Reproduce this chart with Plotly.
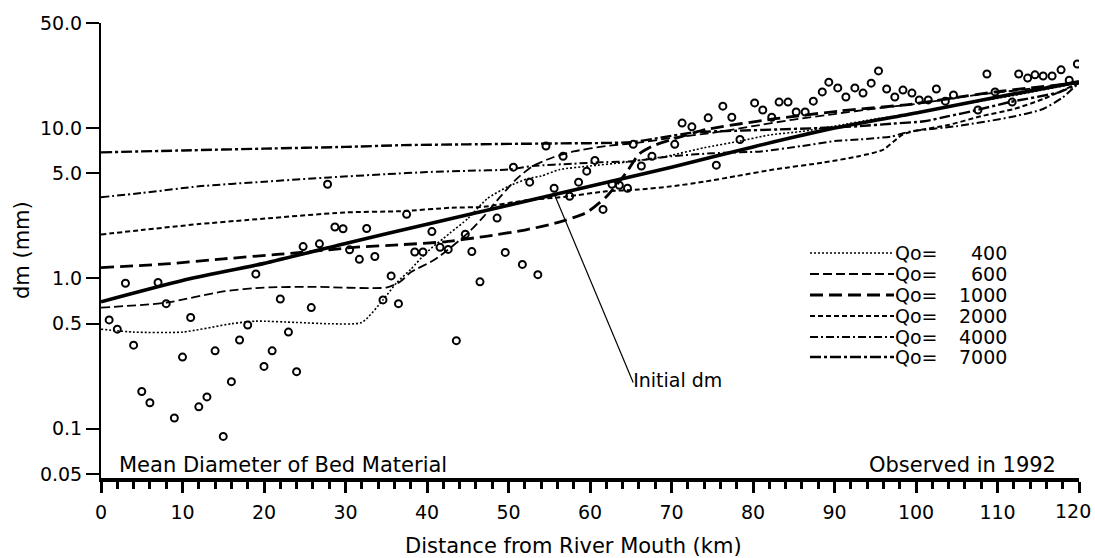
import math
import plotly.graph_objects as go

# ---------------- data ----------------
obs_x = [1, 2, 3, 4, 5, 6, 7, 8, 9, 10, 11, 12, 13, 14, 15, 16, 17, 18, 19, 20,
         21, 22, 23, 24, 24.8, 25.8, 26.8, 27.8, 28.7, 29.7, 30.5, 31.7, 32.6, 33.6,
         34.6, 35.6, 36.5, 37.5, 38.5, 39.5, 40.6, 41.6, 42.6, 43.6, 44.7, 45.5,
         46.5, 48.6, 49.6, 50.6, 51.7, 52.6, 53.6, 54.6, 55.6, 56.7, 57.5, 58.6,
         59.6, 60.6, 61.6, 62.7, 63.6, 64.6, 65.3, 66.3, 67.6, 70.4, 71.3, 72.5,
         74.5, 75.5, 76.3, 77.4, 78.4, 80.2, 81.2, 82.3, 83.2, 84.3, 85.3, 86.4,
         87.4, 88.5, 89.3, 90.4, 91.4, 92.5, 93.5, 94.5, 95.4, 96.4, 97.4, 98.4,
         99.5, 100.4, 101.5, 102.5, 103.6, 104.6, 107.6, 108.7, 109.7, 111.8,
         112.6, 113.7, 114.6, 115.6, 116.7, 117.8, 118.8, 119.8]
obs_y = [0.53, 0.46, 0.93, 0.36, 0.177, 0.149, 0.94, 0.68, 0.118, 0.30, 0.55, 0.14,
         0.163, 0.33, 0.089, 0.206, 0.39, 0.49, 1.07, 0.26, 0.33, 0.73, 0.44, 0.24,
         1.63, 0.64, 1.70, 4.23, 2.20, 2.14, 1.55, 1.34, 2.15, 1.40, 0.72, 1.04,
         0.68, 2.67, 1.50, 1.50, 2.05, 1.61, 1.56, 0.386, 1.97, 1.51, 0.95, 2.52,
         1.49, 5.5, 1.24, 4.37, 1.06, 7.6, 3.98, 6.5, 3.52, 4.37, 5.17, 6.1, 2.88,
         4.23, 4.17, 3.98, 7.8, 5.6, 6.5, 7.8, 10.8, 10.2, 11.7, 5.67, 14.0, 11.8,
         8.4, 14.7, 13.2, 11.8, 14.9, 14.9, 12.8, 12.8, 15.1, 17.4, 20.2, 18.5,
         16.1, 18.5, 17.1, 19.9, 24.0, 18.2, 16.1, 17.9, 17.1, 15.4, 15.4, 18.2,
         15.1, 16.6, 13.2, 22.9, 17.4, 14.9, 22.9, 21.5, 22.6, 22.2, 22.2, 24.4,
         20.8, 26.7]

initial_x = [0, 10, 20, 30, 40, 50, 60, 70, 80, 90, 100, 110, 120]
initial_y = [0.70, 0.97, 1.26, 1.71, 2.29, 3.07, 4.1, 5.5, 7.5, 10.0, 12.6, 16.1, 20.3]

q400_x = [0, 4, 10, 16, 19, 24, 28, 32, 34.6, 36.3, 38, 40, 42.8, 45, 47.4, 50,
          52.3, 54, 56.3, 60, 64, 69.4, 74, 78.4, 82, 86, 90, 95, 100, 106, 112, 120]
q400_y = [0.46, 0.44, 0.44, 0.50, 0.52, 0.51, 0.50, 0.51, 0.72, 0.94, 1.15, 1.5,
          2.0, 2.5, 3.4, 4.1, 4.6, 4.8, 5.3, 5.6, 5.9, 6.5, 7.4, 8.2, 9.0, 9.5,
          10.3, 11.5, 12.6, 14.5, 16.5, 20.0]

q600_x = [0, 8, 15, 20, 26, 35, 36.7, 38, 41, 45, 47, 49, 51, 53, 55.5, 58, 62,
          66, 70, 75, 80, 85, 90, 95, 100, 107, 113, 120]
q600_y = [0.64, 0.69, 0.82, 0.87, 0.88, 0.87, 0.95, 1.1, 1.34, 2.0, 2.6, 3.5, 4.6,
          5.6, 6.4, 7.0, 7.6, 8.0, 8.6, 9.3, 10.3, 11.4, 12.4, 13.5, 14.5, 16.5,
          18.0, 20.0]

q1000_x = [0, 8, 15, 22, 28, 31, 37, 42, 47, 52, 56, 59.6, 62, 64.5, 66, 67.7,
           70, 74.3, 82.5, 90.7, 99.3, 105, 110, 120]
q1000_y = [1.18, 1.25, 1.35, 1.45, 1.55, 1.61, 1.68, 1.75, 1.9, 2.1, 2.35, 2.75,
           3.5, 5.1, 6.7, 7.6, 8.4, 9.8, 11.5, 13.0, 14.4, 16.0, 17.5, 20.0]

q2000_x = [0, 5, 12, 18, 30, 36.7, 42.8, 47, 52, 57, 62, 66, 70, 74, 78, 82.5,
           88.6, 93, 96, 98.4, 100, 104, 108, 112, 115.6, 120]
q2000_y = [1.96, 2.1, 2.3, 2.45, 2.75, 2.8, 2.95, 3.0, 3.3, 3.5, 3.8, 3.9, 4.1,
           4.4, 4.8, 5.3, 5.9, 6.5, 7.2, 9.1, 9.6, 10.5, 12.0, 13.4, 15.6, 20.0]

q4000_x = [0, 5, 12, 20, 28, 35, 40, 45, 50, 53, 58, 62, 65, 70, 75, 81, 86, 90,
           93, 97, 99.3, 105, 111.5, 115.6, 118, 120]
q4000_y = [3.47, 3.7, 4.1, 4.4, 4.7, 4.94, 5.1, 5.2, 5.3, 5.6, 5.8, 5.95, 6.0,
           6.5, 6.8, 7.0, 7.6, 8.2, 8.4, 8.8, 9.5, 10.3, 11.8, 13.4, 16.0, 20.0]

q7000_x = [0, 10, 20, 30, 37, 45, 55, 65, 69, 73, 78, 83, 88, 93, 97, 101, 104,
           107, 111.5, 117.7, 120]
q7000_y = [6.9, 7.1, 7.3, 7.5, 7.7, 7.8, 7.9, 8.06, 8.7, 9.4, 9.6, 9.8, 10.0,
           10.3, 10.7, 11.1, 12.0, 13.0, 14.9, 17.4, 20.0]

leader_x = [55.7, 65.3]
leader_y = [3.55, 0.203]

legend_labels = ["400", "600", "1000", "2000", "4000", "7000"]
y_tickvals = [0.05, 0.1, 0.5, 1, 5, 10, 50]
y_ticktext = ["0.05", "0.1", "0.5", "1.0", "5.0", "10.0", "50.0"]
x_tickvals = list(range(0, 121, 10))
x_ticktext = [str(v) for v in x_tickvals[:-1]] + [""]   # last label drawn separately
x_last_label = str(x_tickvals[-1])

# ---------------- styles ----------------
FONT = "DejaVu Sans"
FS = 19
FS_TXT = 21
series = [
    (q400_x, q400_y, "2px,2px", 1.6),
    (q600_x, q600_y, "9px,4px", 1.8),
    (q1000_x, q1000_y, "13px,6px", 2.8),
    (q2000_x, q2000_y, "5px,3px", 2.0),
    (q4000_x, q4000_y, "8px,3px,2px,3px", 2.0),
    (q7000_x, q7000_y, "11px,3px,3px,3px", 2.4),
]

fig = go.Figure()

for (xs, ys, dash, w), lab in zip(series, legend_labels):
    fig.add_trace(go.Scatter(x=xs, y=ys, mode="lines", name="Qo= " + lab,
                             line=dict(color="black", width=w, dash=dash,
                                       shape="spline", smoothing=0.6),
                             showlegend=False, hoverinfo="skip"))

fig.add_trace(go.Scatter(x=initial_x, y=initial_y, mode="lines",
                         line=dict(color="black", width=3.6, shape="spline",
                                   smoothing=0.6),
                         showlegend=False, name="Initial dm"))

fig.add_trace(go.Scatter(x=obs_x, y=obs_y, mode="markers",
                         marker=dict(symbol="circle-open", size=7, color="black",
                                     line=dict(width=2, color="black")),
                         showlegend=False, name="Observed"))

fig.add_trace(go.Scatter(x=leader_x, y=leader_y, mode="lines",
                         line=dict(color="black", width=1.2),
                         showlegend=False, hoverinfo="skip"))
fig.add_trace(go.Scatter(x=[leader_x[1]], y=[leader_y[1]], mode="text",
                         text=["Initial dm"], textposition="middle right",
                         textfont=dict(family=FONT, size=FS, color="black"),
                         showlegend=False, hoverinfo="skip"))

# ---------------- layout geometry (body margin removed by post_script) ----------------
PL, PR, PT, PB = 101, 1079, 23, 478       # plot area in window pixels
FIG_W, FIG_H = 1095, 558
M_L = PL
M_R = FIG_W - PR
M_T = PT
M_B = FIG_H - PB
W_PLOT = PR - PL
H_PLOT = PB - PT


def px_x(p):
    return (p - PL) / W_PLOT


def px_y(p):
    return (PB - p) / H_PLOT


row_px = [253, 274, 295, 316, 337, 357]
shapes = []
annotations = []
for (xs, ys, dash, w), lab, ry in zip(series, legend_labels, row_px):
    shapes.append(dict(type="line", xref="paper", yref="paper",
                       x0=px_x(810), x1=px_x(894), y0=px_y(ry), y1=px_y(ry),
                       line=dict(color="black", width=w, dash=dash)))
    annotations.append(dict(xref="paper", yref="paper", x=px_x(893), y=px_y(ry),
                            text="Qo=", showarrow=False, xanchor="left",
                            yanchor="middle",
                            font=dict(family=FONT, size=FS, color="black")))
    annotations.append(dict(xref="paper", yref="paper", x=px_x(1009), y=px_y(ry),
                            text=lab, showarrow=False, xanchor="right",
                            yanchor="middle",
                            font=dict(family=FONT, size=FS, color="black")))

annotations += [
    dict(xref="paper", yref="paper", x=px_x(1093), y=px_y(511),
         text=x_last_label, showarrow=False, xanchor="right", yanchor="middle",
         font=dict(family=FONT, size=FS, color="black")),
    dict(xref="paper", yref="paper", x=px_x(117), y=px_y(465),
         text="Mean Diameter of Bed Material", showarrow=False,
         xanchor="left", yanchor="middle",
         font=dict(family=FONT, size=FS_TXT, color="black")),
    dict(xref="paper", yref="paper", x=px_x(1058), y=px_y(465),
         text="Observed in 1992", showarrow=False,
         xanchor="right", yanchor="middle",
         font=dict(family=FONT, size=FS_TXT, color="black")),
    dict(xref="paper", yref="paper", x=px_x(573), y=px_y(546),
         text="Distance from River Mouth (km)", showarrow=False,
         xanchor="center", yanchor="middle",
         font=dict(family=FONT, size=FS_TXT, color="black")),
    dict(xref="paper", yref="paper", x=px_x(22), y=px_y(250),
         text="dm (mm)", showarrow=False, textangle=-90,
         xanchor="center", yanchor="middle",
         font=dict(family=FONT, size=FS_TXT, color="black")),
]

fig.update_layout(
    width=FIG_W, height=FIG_H,
    margin=dict(l=M_L, r=M_R, t=M_T, b=M_B, pad=0, autoexpand=False),
    paper_bgcolor="white", plot_bgcolor="white",
    shapes=shapes, annotations=annotations,
    font=dict(family=FONT, size=FS, color="black"),
    xaxis=dict(range=[0, 120], tickvals=x_tickvals, ticktext=x_ticktext,
               ticks="outside",
               ticklen=11, tickwidth=3, tickcolor="black",
               showline=True, linewidth=4, linecolor="black",
               showgrid=False, zeroline=False, ticklabelstandoff=3,
               ticklabeloverflow="allow", automargin=False,
               tickfont=dict(family=FONT, size=FS, color="black"),
               minor=dict(dtick=2, tick0=0, ticks="outside", ticklen=7,
                          tickwidth=3, tickcolor="black", showgrid=False)),
    yaxis=dict(type="log", range=[math.log10(0.0471), math.log10(50.0)],
               tickvals=y_tickvals, ticktext=y_ticktext, ticks="outside",
               ticklen=13, tickwidth=2, tickcolor="black",
               showline=True, linewidth=2, linecolor="black",
               showgrid=False, zeroline=False, automargin=False,
               tickfont=dict(family=FONT, size=FS, color="black")),
)

fig.write_html("out.html", config={"displayModeBar": False},
               post_script="document.body.style.margin='0';"
                           "document.body.style.overflow='hidden';")
